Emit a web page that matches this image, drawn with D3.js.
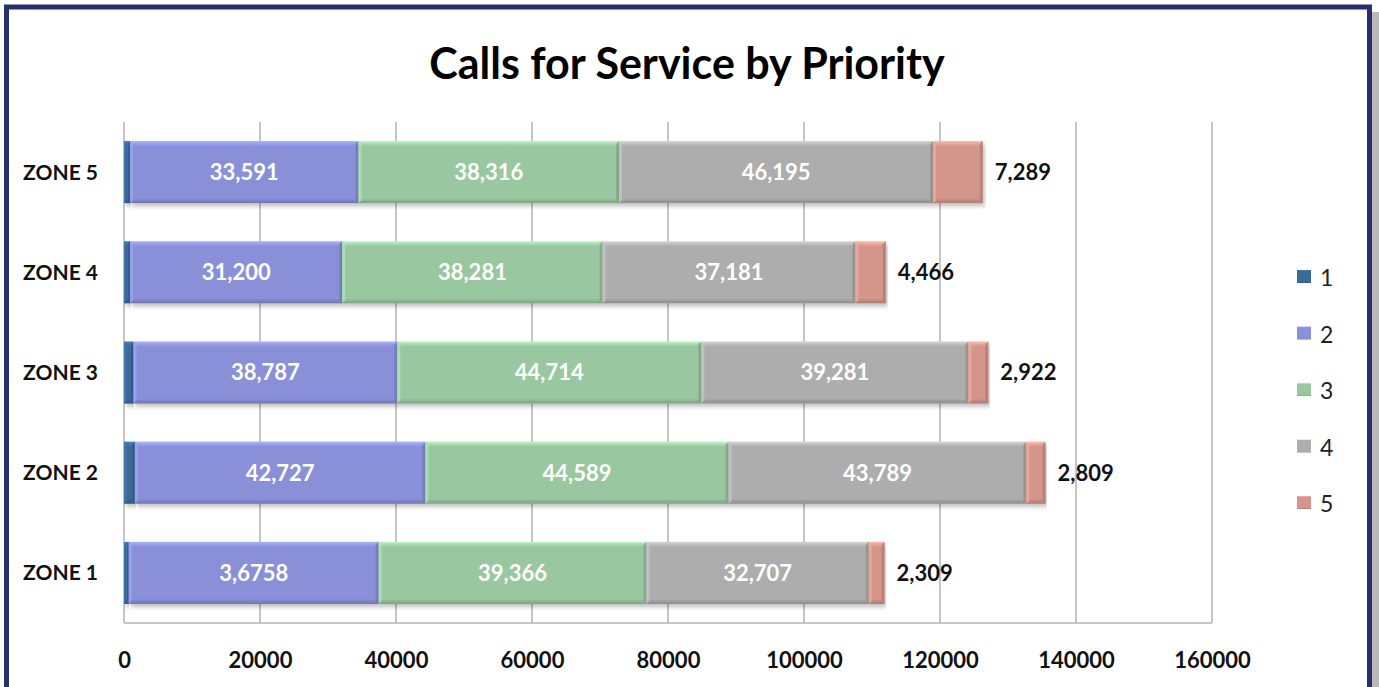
<!DOCTYPE html>
<html><head><meta charset="utf-8">
<script src="https://cdn.jsdelivr.net/npm/d3@7/dist/d3.min.js"></script>
<style>html,body{margin:0;padding:0;background:#fff;overflow:hidden}svg{display:block}</style>
</head><body>
<script>
const zones = ["ZONE 5","ZONE 4","ZONE 3","ZONE 2","ZONE 1"];
const priorities = ["1","2","3","4","5"];
const p1 = [900, 900, 1400, 1600, 700];
const p2 = [33591, 31200, 38787, 42727, 36758];
const p3 = [38316, 38281, 44714, 44589, 39366];
const p4 = [46195, 37181, 39281, 43789, 32707];
const p5 = [7289, 4466, 2922, 2809, 2309];
const p2Labels = ["33,591","31,200","38,787","42,727","3,6758"];
const xTicks = [0,20000,40000,60000,80000,100000,120000,140000,160000];
const colors = ["#3a6a98","#8a90d8","#98c7a0","#adadad","#d4968a"];
const title = "Calls for Service by Priority";

const W = 1379, H = 687;
const FONT = "Lato, 'Open Sans', sans-serif";
const svg = d3.select("body").append("svg").attr("width", W).attr("height", H);
const defs = svg.append("defs");

const m = {left:124, right:1212, top:122, bottom:623};
const x = d3.scaleLinear().domain([0,160000]).range([m.left, m.right]);
const y = d3.scaleBand().domain(zones).range([m.top, m.bottom]).paddingInner(0.38).paddingOuter(0.19);

// gradients (subtle bevel)
colors.forEach((c,i)=>{
  const base = d3.color(c);
  const g = defs.append("linearGradient").attr("id","g"+i).attr("x1",0).attr("y1",0).attr("x2",0).attr("y2",1);
  const stops = [[0,base.brighter(0.6)],[0.05,base.brighter(0.25)],[0.08,base],[0.92,base],[0.96,base.darker(0.3)],[1,base.darker(0.55)]];
  stops.forEach(s=>g.append("stop").attr("offset",s[0]).attr("stop-color",s[1].formatHex()));
});
const f = defs.append("filter").attr("id","sh").attr("x","-5%").attr("y","-20%").attr("width","110%").attr("height","150%");
f.append("feDropShadow").attr("dx",2).attr("dy",3).attr("stdDeviation",2).attr("flood-color","#000").attr("flood-opacity",0.25);

// frame
svg.append("rect").attr("x",1371).attr("y",12).attr("width",8).attr("height",H).attr("fill","#9a9a9a").attr("opacity",0.7);
svg.append("rect").attr("x",6.5).attr("y",7).attr("width",1363).attr("height",H+20)
  .attr("fill","#fff").attr("stroke","#272f6f").attr("stroke-width",5);

// title
svg.append("text").attr("x",687).attr("y",79).attr("text-anchor","middle")
  .attr("font-family",FONT).attr("font-weight","bold").attr("font-size",43).attr("fill","#000").text(title);

// grid
svg.append("g").selectAll("line").data(xTicks).join("line")
  .attr("x1",d=>x(d)).attr("x2",d=>x(d)).attr("y1",m.top).attr("y2",m.bottom)
  .attr("stroke","#b3b3b3").attr("stroke-width",1.5);
svg.append("line").attr("x1",m.left).attr("x2",m.right).attr("y1",m.bottom).attr("y2",m.bottom)
  .attr("stroke","#b3b3b3").attr("stroke-width",1.5);

// x axis labels
const xAxis = d3.axisBottom(x).tickValues(xTicks).tickFormat(d3.format("d")).tickSize(0).tickPadding(0);
const xg = svg.append("g").attr("transform",`translate(0,${m.bottom+45})`).call(xAxis);
xg.select(".domain").remove();
xg.selectAll("text").attr("font-family",FONT).attr("font-weight","bold").attr("font-size",22).attr("fill","#111").attr("dy","0");

// y axis labels
const yAxis = d3.axisLeft(y).tickSize(0).tickPadding(0);
const yg = svg.append("g").attr("transform",`translate(98,0)`).call(yAxis);
yg.select(".domain").remove();
yg.selectAll("text").attr("font-family",FONT).attr("font-weight","bold").attr("font-size",21).attr("fill","#111").attr("dy","0.36em");

// stack
const series = [p1,p2,p3,p4,p5];
const rows = zones.map((z,i)=>{ const o={zone:z}; priorities.forEach((p,k)=>o[p]=series[k][i]); return o; });
const stack = d3.stack().keys(priorities)(rows);

const bars = svg.append("g");
stack.forEach((layer,k)=>{
  const g = bars.append("g");
  const base = d3.color(colors[k]);
  layer.forEach((d,i)=>{
    const x0 = x(d[0]), x1 = x(d[1]), yy = y(d.data.zone), h = y.bandwidth();
    const w = x1 - x0;
    g.append("rect").attr("x",x0).attr("y",yy).attr("width",w).attr("height",h)
      .attr("fill",`url(#g${k})`).attr("filter","url(#sh)");
    const e = Math.min(3, w/4);
    // left highlight bevel
    g.append("path").attr("d",`M${x0},${yy}L${x0+e},${yy+e}L${x0+e},${yy+h-e}L${x0},${yy+h}Z`)
      .attr("fill",base.brighter(0.35).formatHex()).attr("opacity",0.8);
    // right dark bevel
    g.append("path").attr("d",`M${x1},${yy}L${x1-e},${yy+e}L${x1-e},${yy+h-e}L${x1},${yy+h}Z`)
      .attr("fill",base.darker(0.45).formatHex()).attr("opacity",0.85);
  });
});

// labels
const lab = svg.append("g").attr("font-family",FONT).attr("font-weight","bold").attr("font-size",22);
[1,2,3].forEach(k=>{
  stack[k].forEach((d,i)=>{
    lab.append("text").attr("x",(x(d[0])+x(d[1]))/2).attr("y",y(d.data.zone)+y.bandwidth()/2)
      .attr("dy","0.36em").attr("text-anchor","middle").attr("fill","#fff")
      .text(k===1 ? p2Labels[i] : d3.format(",")(series[k][i]));
  });
});
stack[4].forEach((d,i)=>{
  lab.append("text").attr("x",x(d[1])+12).attr("y",y(d.data.zone)+y.bandwidth()/2)
    .attr("dy","0.36em").attr("fill","#111").text(d3.format(",")(series[4][i]));
});

// legend
const leg = svg.append("g");
priorities.forEach((p,k)=>{
  const ly = 278 + k*56.5;
  leg.append("rect").attr("x",1297).attr("y",ly-8).attr("width",14).attr("height",13).attr("fill",`url(#g${k})`);
  leg.append("text").attr("x",1320).attr("y",ly).attr("dy","0.36em")
    .attr("font-family",FONT).attr("font-size",23).attr("fill","#222").text(p);
});
</script>
</body></html>
